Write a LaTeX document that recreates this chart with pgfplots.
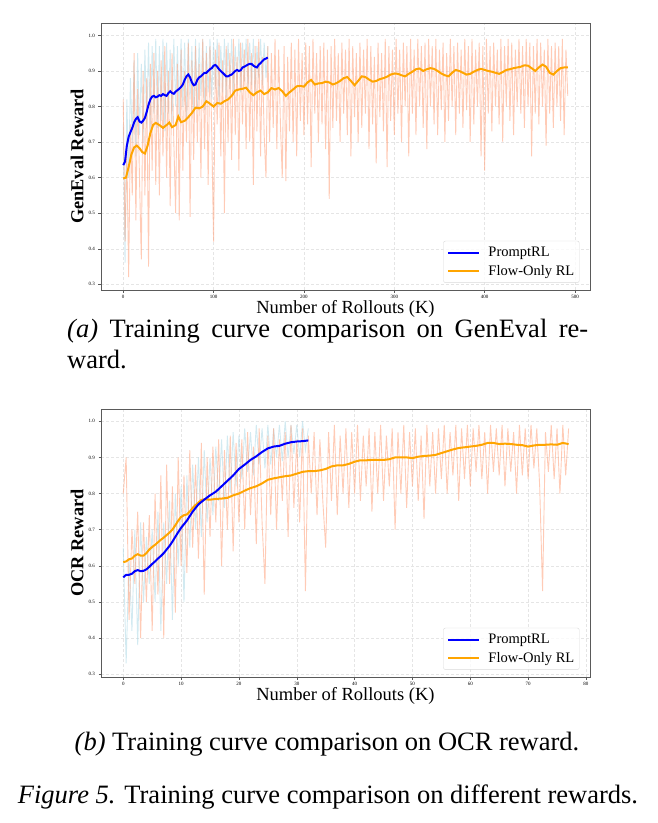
\documentclass[border=0pt]{standalone}
\usepackage{pgfplots}
\pgfplotsset{compat=1.18}
\usepackage{fontspec}
\setmainfont{Liberation Serif}

\definecolor{rawblue}{RGB}{173,216,230}
\definecolor{rawor}{RGB}{255,160,122}
\definecolor{orline}{RGB}{255,165,0}
\definecolor{blline}{RGB}{0,0,255}
\definecolor{framec}{RGB}{90,90,90}

\pgfplotsset{
  myaxis/.style={
    scale only axis, width=489pt, height=267pt,
    axis line style={framec, line width=0.9pt},
    tick style={framec, line width=0.5pt},
    tick align=outside, major tick length=2.5pt,
    xtick pos=lower, ytick pos=left,
    grid=major, grid style={densely dashed, gray!20, line width=0.4pt},
    tick label style={font=\fontsize{5}{6}\selectfont},
    xticklabel style={yshift=1pt},
    /pgf/number format/assume math mode=true,
    yticklabel style={/pgf/number format/.cd, fixed, fixed zerofill, precision=1},
    ytick={0.3,0.4,0.5,0.6,0.7,0.8,0.9,1.0},
    xlabel style={font=\fontsize{18.5}{20}\selectfont, at={(axis description cs:0.5,-0.0695)}, anchor=center},
    ylabel style={font=\fontsize{18.3}{20}\selectfont\bfseries, at={(axis description cs:-0.049,0.5)}, anchor=center},
    legend style={font=\fontsize{14.5}{17}\selectfont, draw=gray!30, rounded corners=2pt,
      fill=white, fill opacity=0.8, text opacity=1,
      at={(0.9785,0.027)}, anchor=south east, inner xsep=3pt, inner ysep=4pt, row sep=3pt},
    legend cell align=left,
    legend image code/.code={\draw[#1, line width=2pt] (0pt,0pt) -- (31pt,0pt); \path (-1pt,0pt) (37pt,0pt);},
    raw/.style={line width=0.9pt, opacity=0.55, forget plot},
  }
}

\begin{document}
\begin{tikzpicture}
\useasboundingbox (0,0) rectangle (657pt,-823pt);

% ---------------- GenEval ----------------
\begin{axis}[myaxis, at={(101pt,-290pt)}, anchor=south west,
  xmin=-24.6, xmax=516.6, ymin=0.284, ymax=1.035,
  xtick={0,100,200,300,400,500},
  xlabel={Number of Rollouts (K)}, ylabel={GenEval Reward}]
\addlegendimage{blline, line width=2pt}\addlegendentry{PromptRL}
\addlegendimage{orline, line width=2pt}\addlegendentry{Flow-Only RL}
% raw PromptRL
\addplot[rawblue, raw] table[header=false, x expr=\coordindex*2, y index=0, row sep=\\]{
0.75\\0.36\\0.82\\0.6\\0.88\\0.7\\0.93\\0.66\\0.95\\0.72\\
0.92\\0.7\\0.96\\0.75\\0.98\\0.72\\0.97\\0.78\\0.99\\0.74\\
0.97\\0.76\\0.99\\0.73\\0.98\\0.78\\0.96\\0.75\\0.99\\0.8\\
0.97\\0.77\\0.99\\0.8\\0.98\\0.76\\0.99\\0.82\\0.97\\0.78\\
0.99\\0.8\\0.98\\0.83\\0.99\\0.79\\0.97\\0.84\\0.99\\0.82\\
0.98\\0.85\\0.99\\0.8\\0.97\\0.84\\0.99\\0.82\\0.98\\0.85\\
0.99\\0.83\\0.97\\0.86\\0.99\\0.84\\0.98\\0.87\\0.99\\0.85\\
0.98\\0.86\\0.99\\0.84\\0.97\\0.88\\0.99\\0.86\\0.98\\0.88\\
0.97\\
};
% raw Flow-Only
\addplot[rawor, raw] table[header=false, x expr=\coordindex*2, y index=0, row sep=\\]{
0.82\\0.42\\0.68\\0.32\\0.75\\0.55\\0.95\\0.48\\0.85\\0.6\\
0.37\\0.9\\0.55\\0.88\\0.35\\0.92\\0.62\\0.95\\0.58\\0.9\\
0.55\\0.93\\0.66\\0.97\\0.6\\0.9\\0.52\\0.95\\0.7\\0.5\\
0.92\\0.48\\0.96\\0.62\\0.9\\0.7\\0.98\\0.49\\0.93\\0.65\\
0.97\\0.7\\0.92\\0.6\\0.99\\0.68\\0.95\\0.58\\0.97\\0.72\\
0.42\\0.96\\0.75\\0.98\\0.66\\0.93\\0.5\\0.97\\0.7\\0.95\\
0.65\\0.99\\0.72\\0.94\\0.62\\0.98\\0.75\\0.96\\0.68\\0.99\\
0.7\\0.95\\0.58\\0.97\\0.73\\0.99\\0.66\\0.94\\0.72\\0.6\\
0.97\\0.7\\0.95\\0.74\\0.99\\0.68\\0.96\\0.75\\0.6\\0.97\\
0.59\\0.94\\0.73\\0.98\\0.7\\0.96\\0.66\\0.99\\0.76\\0.95\\
0.72\\0.98\\0.75\\0.97\\0.63\\0.99\\0.78\\0.95\\0.7\\0.97\\
0.75\\0.98\\0.68\\0.96\\0.54\\0.97\\0.74\\0.99\\0.76\\0.95\\
0.7\\0.98\\0.78\\0.96\\0.72\\0.99\\0.66\\0.97\\0.77\\0.95\\
0.7\\0.98\\0.74\\0.96\\0.78\\0.99\\0.68\\0.97\\0.75\\0.94\\
0.64\\0.98\\0.77\\0.95\\0.73\\0.99\\0.63\\0.97\\0.76\\0.96\\
0.72\\0.99\\0.78\\0.96\\0.7\\0.98\\0.8\\0.97\\0.66\\0.99\\
0.78\\0.96\\0.72\\0.99\\0.8\\0.97\\0.74\\0.98\\0.68\\0.99\\
0.8\\0.97\\0.75\\0.99\\0.72\\0.96\\0.79\\0.98\\0.7\\0.95\\
0.76\\0.99\\0.8\\0.97\\0.72\\0.98\\0.78\\0.96\\0.74\\0.99\\
0.79\\0.97\\0.7\\0.99\\0.75\\0.96\\0.8\\0.98\\0.66\\0.97\\
0.62\\0.99\\0.78\\0.97\\0.73\\0.98\\0.8\\0.96\\0.75\\0.99\\
0.7\\0.97\\0.8\\0.99\\0.76\\0.98\\0.72\\0.96\\0.8\\0.99\\
0.78\\0.97\\0.74\\0.99\\0.8\\0.98\\0.66\\0.97\\0.78\\0.99\\
0.75\\0.98\\0.8\\0.96\\0.69\\0.99\\0.78\\0.97\\0.74\\0.98\\
0.8\\0.97\\0.76\\0.99\\0.72\\0.96\\0.83\\
};
% smoothed Flow-Only
\addplot[orline, line width=2pt, forget plot] coordinates {
(0,0.598)(3,0.6)(6,0.63)(9,0.665)(12,0.685)(15,0.69)(18,0.683)(21,0.672)(24,0.668)(27,0.69)(30,0.725)(33,0.748)(36,0.754)(40,0.748)(44,0.74)(48,0.748)(51,0.755)(54,0.742)(58,0.748)(61,0.772)(64,0.756)(68,0.76)(72,0.77)(76,0.782)(80,0.797)(84,0.795)(88,0.8)(92,0.815)(96,0.808)(100,0.8)(104,0.81)(108,0.808)(112,0.815)(116,0.82)(120,0.83)(124,0.845)(128,0.848)(132,0.85)(136,0.853)(140,0.84)(144,0.832)(148,0.84)(152,0.845)(156,0.835)(160,0.84)(164,0.852)(168,0.848)(172,0.852)(176,0.843)(180,0.83)(184,0.84)(188,0.848)(192,0.857)(196,0.858)(200,0.856)(204,0.868)(208,0.875)(212,0.862)(216,0.865)(220,0.866)(224,0.87)(228,0.868)(232,0.862)(236,0.866)(240,0.872)(244,0.88)(248,0.883)(252,0.872)(256,0.86)(260,0.872)(264,0.885)(268,0.883)(272,0.876)(276,0.87)(280,0.872)(284,0.877)(288,0.88)(292,0.884)(296,0.89)(300,0.893)(304,0.892)(308,0.888)(312,0.885)(316,0.892)(320,0.898)(324,0.905)(328,0.907)(332,0.9)(336,0.905)(340,0.908)(344,0.906)(348,0.9)(352,0.893)(356,0.888)(360,0.885)(364,0.895)(368,0.903)(372,0.9)(376,0.895)(380,0.89)(384,0.892)(388,0.898)(392,0.903)(396,0.906)(400,0.903)(404,0.9)(408,0.898)(412,0.895)(416,0.892)(420,0.897)(424,0.903)(428,0.905)(432,0.908)(436,0.91)(440,0.912)(444,0.916)(448,0.915)(452,0.908)(456,0.9)(460,0.91)(464,0.918)(468,0.912)(472,0.895)(476,0.89)(480,0.9)(484,0.908)(488,0.91)(492,0.91)
};
% smoothed PromptRL
\addplot[blline, line width=2pt, forget plot] coordinates {
(0,0.635)(2,0.645)(4,0.69)(6,0.715)(8,0.728)(10,0.74)(12,0.755)(14,0.765)(16,0.77)(18,0.758)(20,0.755)(22,0.76)(24,0.768)(26,0.785)(28,0.805)(30,0.82)(32,0.828)(34,0.83)(36,0.826)(38,0.828)(40,0.832)(42,0.83)(44,0.835)(46,0.832)(48,0.83)(50,0.838)(52,0.843)(54,0.838)(56,0.836)(58,0.842)(60,0.846)(62,0.85)(64,0.855)(66,0.862)(68,0.875)(70,0.885)(72,0.89)(74,0.882)(76,0.868)(78,0.86)(80,0.862)(82,0.875)(84,0.882)(86,0.885)(88,0.89)(90,0.895)(92,0.895)(94,0.9)(96,0.905)(98,0.908)(100,0.915)(102,0.917)(104,0.912)(106,0.905)(108,0.9)(110,0.895)(112,0.89)(114,0.885)(116,0.885)(118,0.888)(120,0.89)(122,0.895)(124,0.9)(126,0.903)(128,0.9)(130,0.902)(132,0.91)(134,0.912)(136,0.915)(138,0.918)(140,0.92)(142,0.92)(144,0.915)(146,0.912)(148,0.91)(150,0.918)(152,0.922)(154,0.928)(156,0.933)(158,0.935)(160,0.938)
};
\end{axis}

% ---------------- OCR ----------------
\begin{axis}[myaxis, at={(101pt,-677pt)}, anchor=south west, height=268pt,
  xmin=-3.85, xmax=80.7, ymin=0.292, ymax=1.034,
  xtick={0,10,20,30,40,50,60,70,80},
  xlabel={Number of Rollouts (K)}, ylabel={OCR Reward}]
\addlegendimage{blline, line width=2pt}\addlegendentry{PromptRL}
\addlegendimage{orline, line width=2pt}\addlegendentry{Flow-Only RL}
\addplot[rawblue, raw] table[header=false, x expr=\coordindex*0.5, y index=0, row sep=\\]{
0.65\\0.33\\0.62\\0.42\\0.7\\0.38\\0.72\\0.5\\0.68\\0.55\\
0.7\\0.5\\0.75\\0.42\\0.72\\0.55\\0.78\\0.45\\0.8\\0.6\\
0.82\\0.5\\0.85\\0.65\\0.88\\0.7\\0.9\\0.68\\0.92\\0.72\\
0.9\\0.74\\0.93\\0.78\\0.95\\0.76\\0.96\\0.8\\0.97\\0.82\\
0.96\\0.84\\0.98\\0.86\\0.97\\0.85\\0.99\\0.88\\0.98\\0.87\\
0.99\\0.88\\0.98\\0.9\\0.99\\0.89\\1.0\\0.9\\0.99\\0.91\\
0.99\\0.9\\1.0\\0.92\\0.98\\
};
\addplot[rawor, raw] table[header=false, x expr=\coordindex*0.5, y index=0, row sep=\\]{
0.8\\0.9\\0.45\\0.7\\0.55\\0.75\\0.4\\0.72\\0.5\\0.74\\
0.42\\0.8\\0.52\\0.85\\0.4\\0.88\\0.55\\0.82\\0.47\\0.9\\
0.6\\0.85\\0.58\\0.92\\0.65\\0.88\\0.62\\0.94\\0.52\\0.9\\
0.68\\0.93\\0.72\\0.95\\0.6\\0.92\\0.7\\0.96\\0.64\\0.94\\
0.72\\0.95\\0.7\\0.97\\0.74\\0.93\\0.66\\0.98\\0.72\\0.55\\
0.96\\0.74\\0.98\\0.7\\0.95\\0.78\\0.97\\0.68\\0.99\\0.76\\
0.95\\0.72\\0.98\\0.53\\0.96\\0.8\\0.97\\0.74\\0.95\\0.78\\
0.65\\0.97\\0.78\\0.99\\0.74\\0.96\\0.8\\0.98\\0.76\\0.97\\
0.8\\0.99\\0.78\\0.96\\0.82\\0.98\\0.75\\0.97\\0.8\\0.99\\
0.78\\0.96\\0.82\\0.98\\0.7\\0.97\\0.8\\0.99\\0.76\\0.97\\
0.82\\0.98\\0.78\\0.96\\0.73\\0.99\\0.82\\0.97\\0.8\\0.98\\
0.84\\0.99\\0.8\\0.97\\0.85\\0.99\\0.78\\0.98\\0.84\\0.99\\
0.82\\0.98\\0.86\\0.99\\0.84\\0.97\\0.8\\0.99\\0.86\\0.98\\
0.85\\0.99\\0.82\\0.98\\0.86\\0.97\\0.8\\0.99\\0.85\\0.98\\
0.84\\0.99\\0.87\\0.98\\0.82\\0.53\\0.97\\0.86\\0.99\\0.84\\
0.98\\0.8\\0.99\\0.85\\0.98\\
};
\addplot[orline, line width=2pt, forget plot] coordinates {
(0,0.61)(0.5,0.612)(1,0.618)(1.5,0.62)(2,0.628)(2.5,0.632)(3,0.628)(3.5,0.628)(4,0.635)(4.5,0.645)(5,0.652)(5.5,0.658)(6,0.665)(6.5,0.672)(7,0.678)(7.5,0.685)(8,0.692)(8.5,0.7)(9,0.712)(9.5,0.725)(10,0.735)(10.5,0.74)(11,0.742)(11.5,0.75)(12,0.76)(12.5,0.768)(13,0.775)(13.5,0.782)(14,0.784)(15,0.783)(16,0.785)(17,0.786)(18,0.788)(19,0.795)(20,0.8)(21,0.808)(22,0.815)(23,0.82)(24,0.828)(25,0.838)(26,0.842)(27,0.845)(28,0.848)(29,0.85)(30,0.855)(31,0.86)(32,0.862)(33,0.862)(34,0.864)(35,0.868)(36,0.875)(37,0.878)(38,0.878)(39,0.882)(40,0.888)(41,0.892)(42,0.892)(43,0.893)(44,0.893)(45,0.893)(46,0.895)(47,0.9)(48,0.9)(49,0.9)(50,0.898)(51,0.902)(52,0.904)(53,0.905)(54,0.907)(55,0.912)(56,0.917)(57,0.922)(58,0.926)(59,0.928)(60,0.93)(61,0.932)(62,0.935)(63,0.94)(64,0.94)(65,0.937)(66,0.938)(67,0.937)(68,0.935)(69,0.934)(70,0.93)(71,0.933)(72,0.935)(73,0.935)(74,0.936)(75,0.935)(76,0.94)(77,0.937)
};
\addplot[blline, line width=2pt, forget plot] coordinates {
(0,0.568)(0.5,0.575)(1,0.575)(1.5,0.578)(2,0.585)(2.5,0.588)(3,0.585)(3.5,0.586)(4,0.59)(4.5,0.597)(5,0.605)(5.5,0.612)(6,0.62)(6.5,0.627)(7,0.635)(7.5,0.645)(8,0.655)(8.5,0.667)(9,0.68)(9.5,0.693)(10,0.705)(11,0.725)(12,0.75)(13,0.77)(14,0.783)(15,0.795)(16,0.805)(17,0.82)(18,0.835)(19,0.85)(20,0.868)(21,0.88)(22,0.893)(23,0.903)(24,0.915)(25,0.925)(26,0.93)(27,0.932)(28,0.938)(29,0.942)(30,0.944)(31,0.945)(32,0.947)
};
\end{axis}

% ---------------- captions ----------------
\node[anchor=base west, inner sep=0pt, font=\fontsize{26.5}{31}\selectfont] at (67pt,-337pt)
  {\makebox[521pt][s]{\textit{(a)} Training curve comparison on GenEval re-}};
\node[anchor=base west, inner sep=0pt, font=\fontsize{26.5}{31}\selectfont] at (67pt,-368pt) {ward.};
\node[anchor=base, inner sep=0pt, font=\fontsize{26.5}{31}\selectfont] at (327pt,-750pt)
  {\textit{(b)} Training curve comparison on OCR reward.};
\node[anchor=base, inner sep=0pt, font=\fontsize{26.5}{31}\selectfont] at (328pt,-803pt)
  {\textit{Figure 5.} Training curve comparison on different rewards.};
\end{tikzpicture}
\end{document}
